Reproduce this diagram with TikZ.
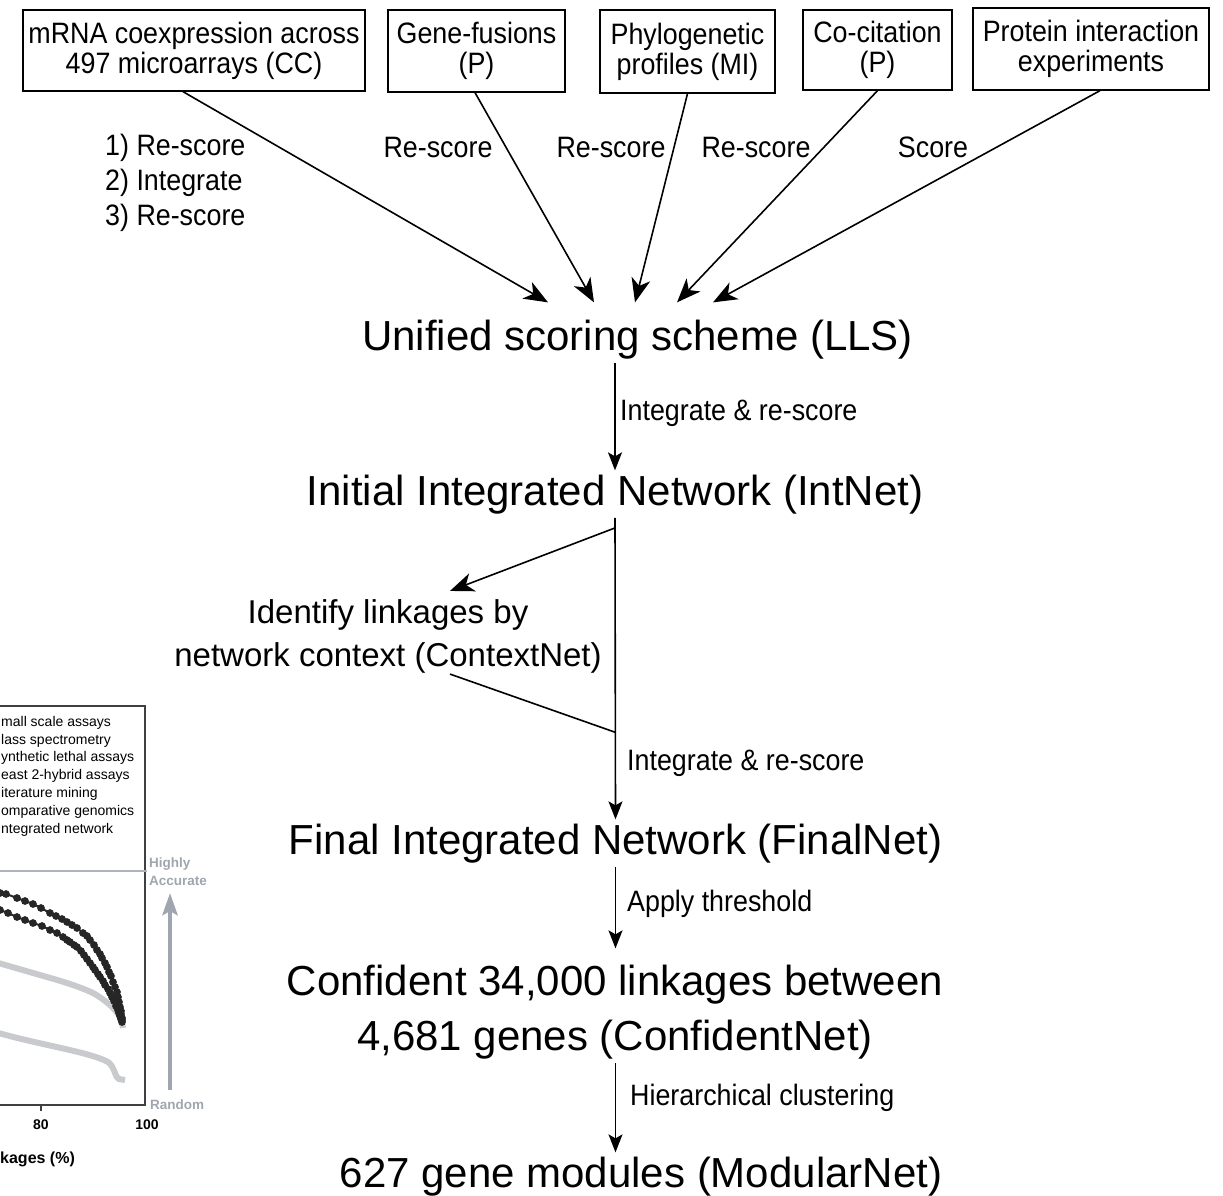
\documentclass[tikz,border=0pt]{standalone}
\usepackage{fontspec}
\setmainfont{Liberation Sans}
\newfontfamily\narrowsans[FakeStretch=0.91]{Liberation Sans}
\usetikzlibrary{arrows.meta,calc}
\definecolor{accgray}{RGB}{160,166,175}
\definecolor{curvegray}{RGB}{200,202,206}
\definecolor{framegray}{RGB}{175,180,186}
\begin{document}
\begin{tikzpicture}[x=1pt,y=-1pt,
  srcbox/.style={draw,line width=1.3pt,inner sep=0pt,align=center,font=\narrowsans\fontsize{29.5}{30}\selectfont},
  bigtext/.style={inner sep=4pt,align=center,font=\fontsize{42}{55}\selectfont},
  midtext/.style={inner sep=4pt,align=center,font=\fontsize{33}{43}\selectfont},
  lab/.style={inner sep=0pt,align=left,font=\narrowsans\fontsize{29.5}{35}\selectfont},
  bigarr/.style={line width=1.6pt,-{Stealth[length=24pt,width=19pt,inset=7pt]}},
  smallarr/.style={line width=1.6pt,-{Stealth[length=18pt,width=14pt,inset=4pt]}},
  plain/.style={line width=1.6pt},
  legtext/.style={inner sep=0pt,anchor=west,font=\fontsize{14}{16}\selectfont},
  acctext/.style={inner sep=0pt,anchor=west,text=accgray,font=\bfseries\fontsize{13.5}{16}\selectfont},
]
\useasboundingbox (0,0) rectangle (1223,1195);

% ---------- source boxes ----------
\node[srcbox,minimum width=342pt,minimum height=81pt] (b1) at (194,50.5) {mRNA coexpression across\\497 microarrays (CC)};
\node[srcbox,minimum width=177pt,minimum height=82pt] (b2) at (476.5,51) {Gene-fusions\\(P)};
\node[srcbox,minimum width=175pt,minimum height=83pt] (b3) at (687.5,51.5) {Phylogenetic\\profiles (MI)};
\node[srcbox,minimum width=149pt,minimum height=80pt] (b4) at (877.5,50) {Co-citation\\(P)};
\node[srcbox,minimum width=236pt,minimum height=82pt] (b5) at (1091,49) {Protein interaction\\experiments};

% ---------- main flow ----------
\node[bigtext,anchor=base] (lls) at (637.5,350) {Unified scoring scheme (LLS)};
\node[bigtext,anchor=base] (intnet) at (615,505) {Initial Integrated Network (IntNet)};
\node[midtext] (context) at (388,636) {Identify linkages by\\network context (ContextNet)};
\node[bigtext,anchor=base] (finalnet) at (615.5,854) {Final Integrated Network (FinalNet)};
\node[bigtext,anchor=base] (confident) at (615,1050) {Confident 34,000 linkages between\\4,681 genes (ConfidentNet)};
\node[bigtext,anchor=base] (modular) at (641,1187) {627 gene modules (ModularNet)};

% ---------- labels ----------
\node[lab,anchor=west] (l1) at (105,183) {1) Re-score\\2) Integrate\\3) Re-score};
\node[lab] (l2) at (438,147) {Re-score};
\node[lab] (l3) at (611,147) {Re-score};
\node[lab] (l4) at (756,147) {Re-score};
\node[lab] (l5) at (933,147) {Score};
\node[lab,anchor=west] (l6) at (620,413) {Integrate \& re-score};
\node[lab,anchor=west] (l7) at (627,763) {Integrate \& re-score};
\node[lab,anchor=west] (l8) at (627,904) {Apply threshold};
\node[lab,anchor=west] (l9) at (630,1098) {Hierarchical clustering};

% ---------- top connectors ----------
\draw[bigarr] ($(b1.south)+(-11,0)$) -- ($(lls.north)+(-89.5,-13)$);
\draw[bigarr] ($(b2.south)+(-1.5,0)$) -- ($(lls.north)+(-43.5,-13)$);
\draw[bigarr] (b3.south) -- ($(lls.north)+(-2.5,-13)$);
\draw[bigarr] (b4.south) -- ($(lls.north)+(39.5,-13)$);
\draw[bigarr] ($(b5.south)+(9,0)$) -- ($(lls.north)+(75.5,-13)$);

% ---------- vertical flow ----------
\draw[smallarr] (lls.south -| intnet.center) -- (intnet.north);
\draw[smallarr] (intnet.south) -- (finalnet.north);
\coordinate (split) at ($(intnet.south)+(0,10)$);
\coordinate (merge) at ($(finalnet.north)+(0,-87)$);
\draw[bigarr] (split) -- ($(context.north)+(62,-4)$);
\draw[plain] ($(context.south)+(62,-3)$) -- (merge);
\draw[smallarr] (finalnet.south) -- ($(confident.north -| finalnet.center)+(0,-12)$);
\draw[smallarr] (confident.south -| finalnet.center) -- (modular.north -| finalnet.center);

% ---------- partial chart (lower left) ----------
\begin{scope}
\clip (0,700) rectangle (225,1175);
\draw[line width=1.2pt,black!75] (-5,706) -- (145,706) -- (145,1105) -- (-5,1105);
\draw[line width=1.2pt,black!75] (41,1105) -- (41,1111);
\draw[line width=1.2pt,framegray] (-5,871) -- (147,871);
\node[legtext] (g1) at (1,723) {mall scale assays};
\node[legtext] (g2) at (1,741) {lass spectrometry};
\node[legtext] (g3) at (1,758) {ynthetic lethal assays};
\node[legtext] (g4) at (1,776) {east 2-hybrid assays};
\node[legtext] (g5) at (1,794) {iterature mining};
\node[legtext] (g6) at (1,812) {omparative genomics};
\node[legtext] (g7) at (1,830) {ntegrated network};
\node[acctext] (h1) at (149,864) {Highly};
\node[acctext] (h2) at (149,881) {Accurate};
\node[acctext] (h3) at (150,1105) {Random};
\draw[accgray,line width=4.5pt,-{Triangle[length=22pt,width=15pt,inset=4pt]}] (170,1090) -- (170,893);
\node[inner sep=0pt,font=\bfseries\fontsize{14}{16}\selectfont] (t80) at (41,1125) {80};
\node[inner sep=0pt,font=\bfseries\fontsize{14}{16}\selectfont] (t100) at (147,1125) {100};
\node[inner sep=0pt,anchor=west,font=\bfseries\fontsize{16}{18}\selectfont] (xl) at (0,1159) {kages (\%)};
\draw[curvegray,line width=6pt] plot[smooth] coordinates {(-5,962) (33,973) (67,983) (93,993) (110,1005) (120,1017) (123,1028)};
\draw[curvegray,line width=6pt] (-5,1032) .. controls (40,1045) and (90,1052) .. (108,1062) .. controls (115,1067) and (115,1078) .. (119,1079) -- (125,1080);
\draw[black!85,line width=2pt,mark=*,mark size=2.8pt] plot[smooth] coordinates {(0,893) (6,894) (17,898) (25,901) (33,904) (41,908) (50,913) (56,916) (62,919) (67,922) (72,925) (77,928) (83,933) (87,936) (90,940) (94,945) (97,950) (100,954) (102,958) (105,963) (107,967) (109,972) (111,976) (113,982) (115,987) (117,992) (118,997) (119,1002) (120,1007) (121,1011) (121,1014) (122,1018) (122,1020)};
\draw[black!85,line width=2pt,mark=*,mark size=2.8pt] plot[smooth] coordinates {(0,910) (8,913) (17,917) (25,920) (33,923) (42,926) (50,930) (57,933) (63,937) (67,940) (70,942) (74,945) (77,947) (81,951) (84,955) (87,959) (90,963) (93,967) (95,970) (98,974) (100,977) (103,981) (105,985) (108,989) (110,993) (112,997) (114,1001) (116,1006) (118,1010) (119,1013) (120,1016) (121,1019) (122,1022)};
\end{scope}
\end{tikzpicture}
\end{document}
